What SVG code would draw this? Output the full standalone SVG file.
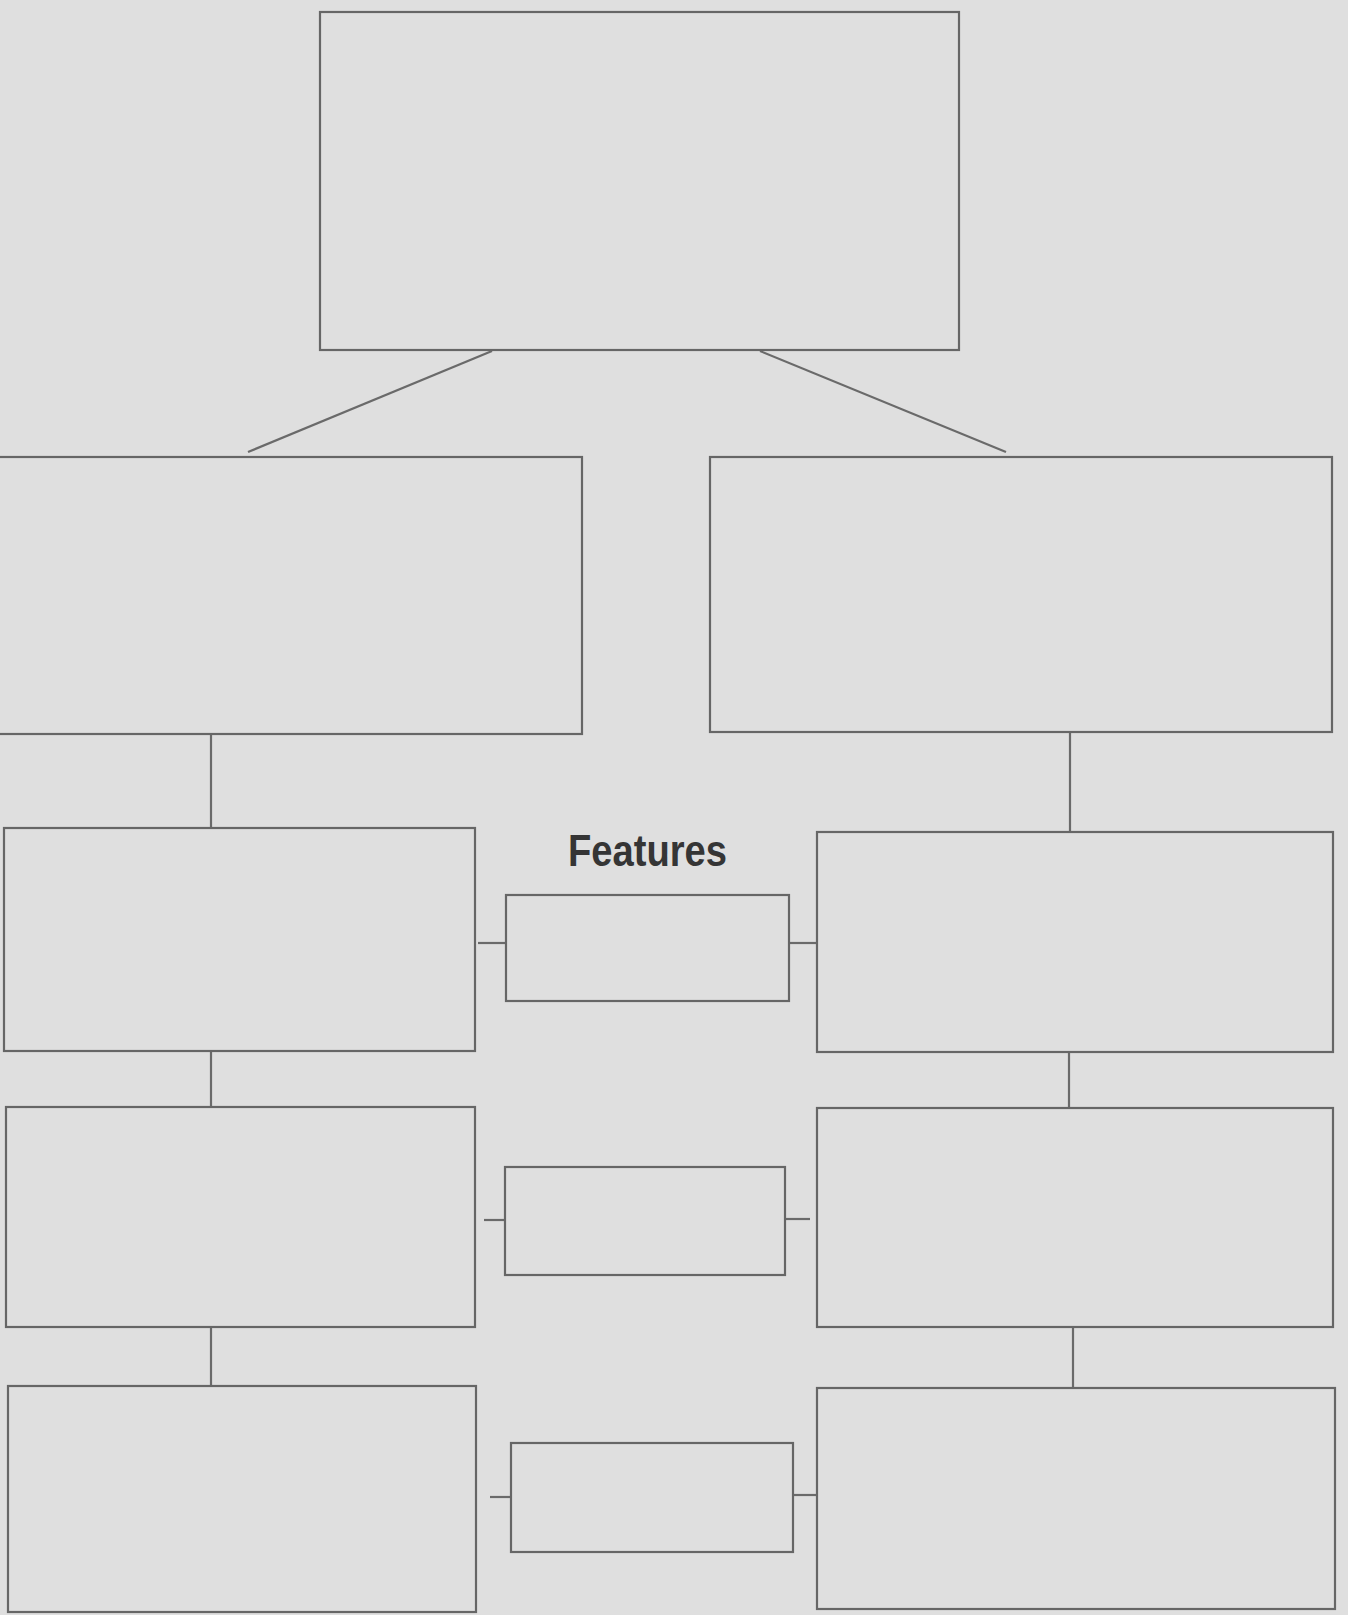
<svg xmlns="http://www.w3.org/2000/svg" width="1348" height="1615" viewBox="0 0 1348 1615">
<style>
.box{fill:#dfdfdf;stroke:#666;stroke-width:2.2}
.con line{stroke:#6a6a6a;stroke-width:2.2}
.lbl{font-family:"Liberation Sans",Arial,sans-serif;font-size:45px;font-weight:bold;fill:#353535}
</style>
<rect width="1348" height="1615" fill="#dfdfdf"/>
<g class="con" id="connectors">
<line x1="492" y1="351" x2="248" y2="452"/>
<line x1="760" y1="351" x2="1006" y2="452"/>
<line x1="211" y1="734" x2="211" y2="827"/>
<line x1="1070" y1="732" x2="1070" y2="832"/>
<line x1="211" y1="1051" x2="211" y2="1106"/>
<line x1="1069" y1="1052" x2="1069" y2="1107"/>
<line x1="211" y1="1327" x2="211" y2="1386"/>
<line x1="1073" y1="1327" x2="1073" y2="1388"/>
<line x1="478" y1="943" x2="506" y2="943"/>
<line x1="789" y1="943" x2="817" y2="943"/>
<line x1="484" y1="1220" x2="505" y2="1220"/>
<line x1="785" y1="1219" x2="810" y2="1219"/>
<line x1="490" y1="1497" x2="511" y2="1497"/>
<line x1="793" y1="1495" x2="817" y2="1495"/>
</g>
<g id="top"><rect class="box" x="320" y="12" width="639" height="338"/></g>
<g id="left1"><rect class="box" x="-2" y="457" width="584" height="277"/></g>
<g id="right1"><rect class="box" x="710" y="457" width="622" height="275"/></g>
<g id="left2"><rect class="box" x="4" y="828" width="471" height="223"/></g>
<g id="right2"><rect class="box" x="817" y="832" width="516" height="220"/></g>
<g id="left3"><rect class="box" x="6" y="1107" width="469" height="220"/></g>
<g id="right3"><rect class="box" x="817" y="1108" width="516" height="219"/></g>
<g id="left4"><rect class="box" x="8" y="1386" width="468" height="226"/></g>
<g id="right4"><rect class="box" x="817" y="1388" width="518" height="221"/></g>
<g id="features"><text class="lbl" x="568" y="866" textLength="159" lengthAdjust="spacingAndGlyphs">Features</text></g>
<g id="mid1"><rect class="box" x="506" y="895" width="283" height="106"/></g>
<g id="mid2"><rect class="box" x="505" y="1167" width="280" height="108"/></g>
<g id="mid3"><rect class="box" x="511" y="1443" width="282" height="109"/></g>
</svg>
